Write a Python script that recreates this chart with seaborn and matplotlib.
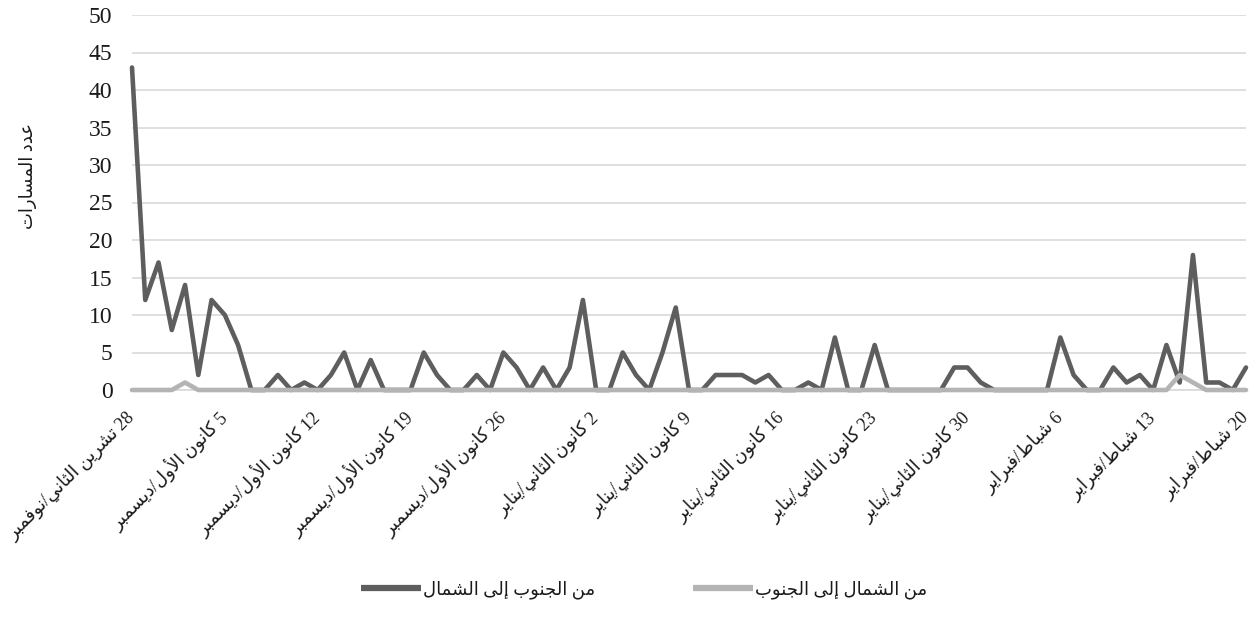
import re
import numpy as np
import pandas as pd
import matplotlib
matplotlib.use("Agg")
import matplotlib.pyplot as plt
import seaborn as sns
from matplotlib.lines import Line2D

# ---- data -------------------------------------------------------------
tick_labels = [
    "28 تشرين الثاني/نوفمبر",
    "5 كانون الأول/ديسمبر",
    "12 كانون الأول/ديسمبر",
    "19 كانون الأول/ديسمبر",
    "26 كانون الأول/ديسمبر",
    "2 كانون الثاني/يناير",
    "9 كانون الثاني/يناير",
    "16 كانون الثاني/يناير",
    "23 كانون الثاني/يناير",
    "30 كانون الثاني/يناير",
    "6 شباط/فبراير",
    "13 شباط/فبراير",
    "20 شباط/فبراير",
]

series_names = ["من الجنوب إلى الشمال", "من الشمال إلى الجنوب"]

# daily counts, 28 Nov .. 20 Feb
south_to_north = [
    43, 12, 17, 8, 14, 2, 12, 10, 6, 0,
    0, 2, 0, 1, 0, 2, 5, 0, 4, 0,
    0, 0, 5, 2, 0, 0, 2, 0, 5, 3,
    0, 3, 0, 3, 12, 0, 0, 5, 2, 0,
    5, 11, 0, 0, 2, 2, 2, 1, 2, 0,
    0, 1, 0, 7, 0, 0, 6, 0, 0, 0,
    0, 0, 3, 3, 1, 0, 0, 0, 0, 0,
    7, 2, 0, 0, 3, 1, 2, 0, 6, 1,
    18, 1, 1, 0, 3,
]
north_to_south = [
    0, 0, 0, 0, 1, 0, 0, 0, 0, 0,
    0, 0, 0, 0, 0, 0, 0, 0, 0, 0,
    0, 0, 0, 0, 0, 0, 0, 0, 0, 0,
    0, 0, 0, 0, 0, 0, 0, 0, 0, 0,
    0, 0, 0, 0, 0, 0, 0, 0, 0, 0,
    0, 0, 0, 0, 0, 0, 0, 0, 0, 0,
    0, 0, 0, 0, 0, 0, 0, 0, 0, 0,
    0, 0, 0, 0, 0, 0, 0, 0, 0, 2,
    1, 0, 0, 0, 0,
]

y_title = "عدد المسارات"

# ---- minimal Arabic shaping + right-to-left ordering -------------------
_FORMS = {}
for ch, base in zip("آأؤإاةدذرزوى",
                    [0xFE81, 0xFE83, 0xFE85, 0xFE87, 0xFE8D, 0xFE93, 0xFEA9,
                     0xFEAB, 0xFEAD, 0xFEAF, 0xFEED, 0xFEEF]):
    _FORMS[ch] = [base, base + 1]
for ch, base in zip("ئبتثجحخسشصضطظعغفقكلمنهي",
                    [0xFE89, 0xFE8F, 0xFE95, 0xFE99, 0xFE9D, 0xFEA1, 0xFEA5,
                     0xFEB1, 0xFEB5, 0xFEB9, 0xFEBD, 0xFEC1, 0xFEC5, 0xFEC9,
                     0xFECD, 0xFED1, 0xFED5, 0xFED9, 0xFEDD, 0xFEE1, 0xFEE5,
                     0xFEE9, 0xFEF1]):
    _FORMS[ch] = [base, base + 1, base + 2, base + 3]
_FORMS["ء"] = [0xFE80]
_LAM_ALEF = {"آ": 0xFEF5, "أ": 0xFEF7, "إ": 0xFEF9, "ا": 0xFEFB}


def _shape(text):
    toks = []
    i = 0
    while i < len(text):
        c = text[i]
        if c == "ل" and i + 1 < len(text) and text[i + 1] in _LAM_ALEF:
            b = _LAM_ALEF[text[i + 1]]
            toks.append([b, b + 1])
            i += 2
        elif c in _FORMS:
            toks.append(_FORMS[c])
            i += 1
        else:
            toks.append(c)
            i += 1
    out = []
    for j, t in enumerate(toks):
        if isinstance(t, str):
            out.append(t)
            continue
        prev = toks[j - 1] if j > 0 else None
        nxt = toks[j + 1] if j + 1 < len(toks) else None
        pj = isinstance(prev, list) and len(prev) == 4
        nj = isinstance(nxt, list) and len(nxt) >= 2 and len(t) == 4
        if len(t) == 4:
            k = 3 if (pj and nj) else 1 if pj else 2 if nj else 0
        elif len(t) == 2:
            k = 1 if pj else 0
        else:
            k = 0
        out.append(chr(t[k]))
    return "".join(out)


def rtl(text):
    s = _shape(text)[::-1]
    return re.sub(r"[0-9]+", lambda m: m.group(0)[::-1], s)


# ---- figure -----------------------------------------------------------
sns.set_style("white")
FAMILY = ["Liberation Serif", "DejaVu Sans"]
plt.rcParams["font.family"] = FAMILY

dark = "#5e5e5e"
light = "#b4b4b4"
grid_c = "#d9d9d9"
text_c = "#1a1a1a"

days = np.arange(len(south_to_north))
df = pd.DataFrame({
    "day": np.concatenate([days, days]),
    "count": south_to_north + north_to_south,
    "direction": [series_names[0]] * len(days) + [series_names[1]] * len(days),
})

fig = plt.figure(figsize=(12.56, 6.33), dpi=100)
ax = fig.add_axes([132 / 1256, 1 - 390 / 633, 1114 / 1256, 375 / 633])

sns.lineplot(data=df, x="day", y="count", hue="direction",
             hue_order=series_names,
             palette={series_names[0]: dark, series_names[1]: light},
             linewidth=3.3, ax=ax, legend=False, zorder=3)
for ln in ax.lines:
    ln.set_clip_on(False)
    ln.set_solid_joinstyle("round")

ax.set_xlim(0, len(days) - 1)
ax.set_ylim(0, 50)
ax.set_yticks(np.arange(0, 51, 5))
ax.yaxis.grid(True, color=grid_c, linewidth=1.2)
ax.xaxis.grid(False)
ax.set_axisbelow(True)
for side in ("top", "right", "left"):
    ax.spines[side].set_visible(False)
ax.spines["bottom"].set_color(grid_c)
ax.spines["bottom"].set_linewidth(1.2)

ax.set_xticks(np.arange(0, len(days), 7))
ax.set_xticklabels([rtl(t) for t in tick_labels], rotation=45, ha="right",
                   va="center", rotation_mode="anchor", fontsize=13,
                   color=text_c)
ax.tick_params(axis="x", length=6, width=1.2, color=grid_c, pad=12, direction="out")
ax.tick_params(axis="y", length=0, pad=14, labelsize=17, labelcolor=text_c)
for lbl in ax.get_yticklabels():
    lbl.set_family(FAMILY)

ax.set_xlabel("")
ax.set_ylabel(rtl(y_title), fontsize=13, color=text_c, family=FAMILY)
ax.yaxis.set_label_coords(-0.085, 0.57)

handles = [Line2D([], [], color=dark, linewidth=4.5, solid_capstyle="butt"),
           Line2D([], [], color=light, linewidth=4.5, solid_capstyle="butt")]
leg = fig.legend(handles, [rtl(s) for s in series_names], loc="center",
                 bbox_to_anchor=(0.513, 0.068), ncol=2, frameon=False,
                 handlelength=3.3, handletextpad=0.15, columnspacing=5.4,
                 prop={"family": FAMILY, "size": 13})
for t in leg.get_texts():
    t.set_color(text_c)

fig.savefig("out.png", dpi=100, facecolor="white")
